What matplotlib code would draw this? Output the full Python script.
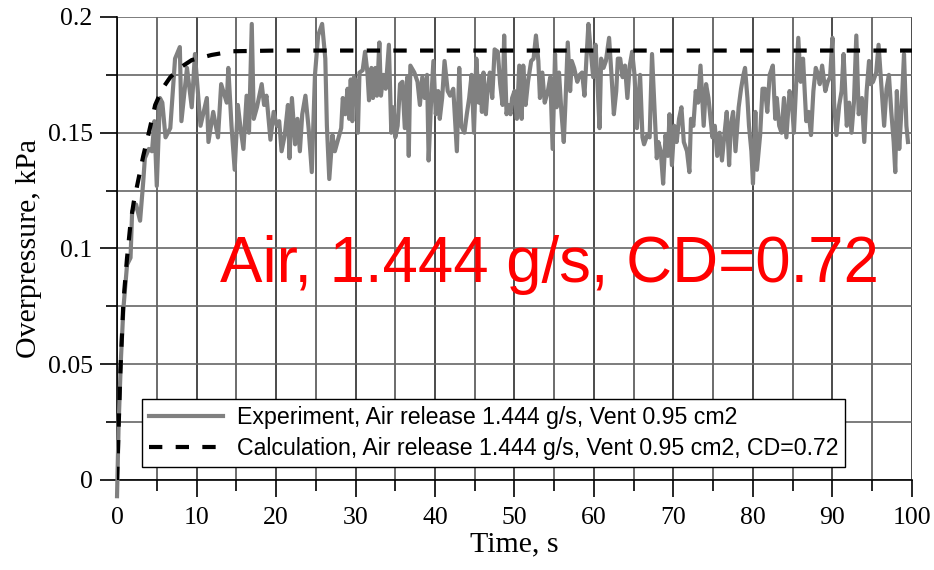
import matplotlib
matplotlib.use("Agg")
import matplotlib.pyplot as plt
from matplotlib.ticker import MultipleLocator, FixedLocator, FixedFormatter

# ---- data ----
# Experiment, in segments of time
t_a = [0, 0.2, 0.5, 0.8, 1.26, 1.7, 1.9, 2.4, 2.9, 3.3,
       3.5, 4.0, 4.4, 4.7, 5.0, 5.4, 5.7, 6.1, 6.7, 7.3,
       7.9, 8.1, 8.8, 9.4, 9.8, 10.5, 11.3, 11.5, 12.1, 12.7,
       13.1]
p_a = [-0.007, 0.024, 0.053, 0.074, 0.093, 0.096, 0.116, 0.119, 0.112, 0.129,
       0.139, 0.143, 0.142, 0.155, 0.127, 0.165, 0.163, 0.148, 0.152, 0.182,
       0.187, 0.155, 0.178, 0.161, 0.184, 0.153, 0.165, 0.146, 0.159, 0.148,
       0.171]
t_b = [13.8, 14.0, 14.4, 14.8, 15.2, 15.5, 15.9, 16.3, 16.6, 16.95,
       17.2, 17.6, 18.2, 18.5, 18.8, 19.3, 19.7, 20.1, 20.4, 20.7,
       21.1, 21.5, 21.7, 22.0, 22.4, 22.7, 23.0, 23.3, 23.7, 24.1,
       24.5, 24.9, 25.3, 25.8, 26.2, 26.4, 26.7, 27.1, 27.4]
p_b = [0.163, 0.178, 0.153, 0.134, 0.162, 0.153, 0.143, 0.166, 0.150, 0.197,
       0.156, 0.161, 0.171, 0.162, 0.166, 0.147, 0.159, 0.153, 0.155, 0.142,
       0.149, 0.162, 0.139, 0.165, 0.145, 0.156, 0.142, 0.158, 0.166, 0.152,
       0.133, 0.175, 0.192, 0.197, 0.182, 0.153, 0.130, 0.149, 0.142]
t_c = [28.2, 28.4, 28.7, 29.0, 29.2, 29.4, 29.6, 29.8, 30.1, 30.3,
       30.5, 30.9, 31.2, 31.5, 31.7, 32.0, 32.2, 32.5, 32.7, 33.0,
       33.2, 33.5, 33.8, 34.2, 34.5, 34.8, 35.0, 35.3, 35.6, 35.9,
       36.2, 36.5, 36.7, 36.9, 37.4, 37.8, 38.1, 38.4, 38.7, 39.0,
       39.2, 39.5, 39.8, 40.1, 40.4, 40.6, 40.9, 41.2, 41.6, 41.9,
       42.3]
p_c = [0.152, 0.165, 0.158, 0.169, 0.156, 0.173, 0.155, 0.174, 0.172, 0.150,
       0.176, 0.177, 0.185, 0.176, 0.164, 0.178, 0.165, 0.178, 0.166, 0.189,
       0.166, 0.175, 0.169, 0.188, 0.150, 0.161, 0.148, 0.153, 0.171, 0.172,
       0.152, 0.174, 0.140, 0.179, 0.176, 0.172, 0.162, 0.174, 0.165, 0.175,
       0.138, 0.163, 0.181, 0.158, 0.168, 0.156, 0.165, 0.181, 0.168, 0.166,
       0.169]
t_d = [42.75, 43.05, 43.3, 43.7, 44.0, 44.3, 44.6, 44.9, 45.2, 45.5,
       45.7, 45.9, 46.1, 46.4, 46.6, 46.9, 47.2, 47.5, 47.9, 48.2,
       48.5, 48.7, 49.0, 49.2, 49.5, 49.7, 50.0, 50.3, 50.6, 50.9,
       51.1, 51.4, 51.7, 52.1, 52.4, 52.7, 53.0, 53.2, 53.5, 53.8,
       54.2, 54.5, 54.8, 55.1, 55.3, 55.6, 55.9, 56.2]
p_d = [0.142, 0.178, 0.153, 0.150, 0.158, 0.165, 0.175, 0.150, 0.182, 0.163,
       0.174, 0.159, 0.176, 0.158, 0.168, 0.176, 0.165, 0.186, 0.185, 0.171,
       0.162, 0.192, 0.158, 0.162, 0.158, 0.165, 0.168, 0.156, 0.179, 0.156,
       0.179, 0.162, 0.172, 0.181, 0.182, 0.192, 0.181, 0.165, 0.176, 0.163,
       0.168, 0.174, 0.143, 0.184, 0.161, 0.176, 0.159, 0.146]
t_e = [56.4, 56.7, 57.0, 57.2, 57.5, 57.9, 58.2, 58.5, 58.8, 59.05,
       59.3, 59.6, 59.9, 60.2, 60.4, 60.7, 60.9, 61.2, 61.5, 61.9,
       62.2, 62.5, 62.8, 63.0, 63.3, 63.6, 63.9, 64.2, 64.5, 64.8,
       65.1, 65.4, 65.8, 66.1, 66.3, 66.7, 67.0, 67.3, 67.6, 67.9,
       68.1, 68.4, 68.7, 69.0, 69.3, 69.5, 69.8, 70.1, 70.4]
p_e = [0.162, 0.189, 0.168, 0.181, 0.178, 0.172, 0.175, 0.176, 0.166, 0.182,
       0.197, 0.185, 0.174, 0.188, 0.174, 0.152, 0.182, 0.178, 0.181, 0.191,
       0.175, 0.158, 0.168, 0.182, 0.182, 0.174, 0.179, 0.165, 0.179, 0.185,
       0.175, 0.152, 0.175, 0.148, 0.145, 0.149, 0.148, 0.184, 0.161, 0.139,
       0.146, 0.142, 0.128, 0.149, 0.140, 0.158, 0.136, 0.153, 0.146]
t_f = [70.7, 71.0, 71.3, 71.7, 72.0, 72.2, 72.5, 72.8, 73.1, 73.4,
       73.8, 74.1, 74.4, 74.7, 74.9, 75.2, 75.5, 75.8, 76.1, 76.4,
       76.7, 77.0, 77.2, 77.5, 77.8, 78.2, 78.5, 78.8, 79.0, 79.3,
       79.5, 79.8, 80.0, 80.3, 80.5, 80.9, 81.2, 81.5, 81.8, 82.1,
       82.5, 82.8, 83.0, 83.3, 83.6, 83.9, 84.2, 84.6]
p_f = [0.156, 0.161, 0.146, 0.142, 0.133, 0.156, 0.153, 0.168, 0.163, 0.179,
       0.153, 0.171, 0.165, 0.155, 0.148, 0.153, 0.140, 0.150, 0.138, 0.149,
       0.159, 0.136, 0.153, 0.159, 0.142, 0.161, 0.169, 0.175, 0.178, 0.165,
       0.153, 0.142, 0.128, 0.159, 0.134, 0.149, 0.169, 0.169, 0.159, 0.175,
       0.179, 0.156, 0.165, 0.153, 0.150, 0.165, 0.148, 0.168]
t_g = [84.9, 85.15, 85.4, 85.7, 86.0, 86.3, 86.7, 87.0, 87.3, 87.6,
       87.9, 88.2, 88.4, 88.7, 89.1, 89.4, 89.7, 90.0, 90.2, 90.5,
       90.85, 91.15, 91.4, 91.8, 92.1, 92.4, 92.7, 93.0, 93.3, 93.7,
       94.0, 94.3, 94.6, 94.8, 95.1, 95.5, 95.8, 96.0, 96.3, 96.5,
       96.8, 97.1, 97.4, 97.7, 97.9, 98.1, 98.4, 98.7, 99.0, 99.3,
       99.5]
p_g = [0.163, 0.150, 0.169, 0.191, 0.172, 0.182, 0.155, 0.159, 0.149, 0.168,
       0.178, 0.175, 0.171, 0.179, 0.168, 0.172, 0.174, 0.191, 0.163, 0.149,
       0.162, 0.168, 0.184, 0.153, 0.163, 0.150, 0.163, 0.192, 0.158, 0.165,
       0.146, 0.168, 0.181, 0.171, 0.172, 0.176, 0.188, 0.178, 0.163, 0.153,
       0.169, 0.175, 0.159, 0.146, 0.133, 0.168, 0.143, 0.161, 0.184, 0.153,
       0.146]

exp_t = t_a + t_b + t_c + t_d + t_e + t_f + t_g
exp_p = p_a + p_b + p_c + p_d + p_e + p_f + p_g

# Calculation
calc_t = [0, 0.4, 0.8, 1.26, 1.7, 2.1, 2.7, 3.3, 4.0, 4.8, 5.7, 6.7, 7.9, 9.4, 11.9, 14.6, 20, 100]
calc_p = [0, 0.045, 0.077, 0.096, 0.111, 0.120, 0.130, 0.140, 0.150, 0.162, 0.169, 0.174, 0.178, 0.1814,
          0.1836, 0.1852, 0.1855, 0.1855]

exp_label = "Experiment, Air release 1.444 g/s, Vent 0.95 cm2"
calc_label = "Calculation, Air release 1.444 g/s, Vent 0.95 cm2, CD=0.72"
annotation = "Air, 1.444 g/s, CD=0.72"
x_major = [0, 10, 20, 30, 40, 50, 60, 70, 80, 90, 100]
y_major = [0, 0.05, 0.1, 0.15, 0.2]
y_major_labels = ["0", "0.05", "0.1", "0.15", "0.2"]

serif = ["Liberation Serif", "DejaVu Serif"]
sans = ["Liberation Sans", "DejaVu Sans"]

fig = plt.figure(figsize=(9.34, 5.70), dpi=100)
ax = fig.add_axes([0.1253, 0.1579, 0.8511, 0.8123])

ax.set_xlim(0, 100)
ax.set_ylim(0, 0.2)

# grid
ax.xaxis.set_major_locator(FixedLocator(x_major))
ax.xaxis.set_minor_locator(MultipleLocator(5))
ax.yaxis.set_major_locator(FixedLocator(y_major))
ax.yaxis.set_major_formatter(FixedFormatter(y_major_labels))
ax.yaxis.set_minor_locator(MultipleLocator(0.025))
ax.grid(which="major", axis="x", color="#1a1a1a", lw=1.1)
ax.grid(which="minor", axis="x", color="#444444", lw=1.1)
ax.grid(which="both", axis="y", color="#666666", lw=1.2)
ax.set_axisbelow(True)

for s in ["top", "right"]:
    ax.spines[s].set_visible(False)
for s in ["left", "bottom"]:
    ax.spines[s].set_color("black")
    ax.spines[s].set_linewidth(1.2)

ax.tick_params(which="both", direction="out", width=1.2, color="black")
ax.tick_params(which="major", length=12.5)
ax.tick_params(which="minor", length=8)
ax.tick_params(axis="x", which="major", labelsize=18.5, pad=7)
ax.tick_params(axis="y", which="major", labelsize=18.5, pad=5)
for lab in ax.get_xticklabels() + ax.get_yticklabels():
    lab.set_family(serif)

ax.plot(exp_t, exp_p, color="#808080", lw=3.0, label=exp_label, clip_on=False, zorder=3)
ax.plot(calc_t, calc_p, color="black", lw=3.0, ls=(0, (3.2, 3.2)), label=calc_label, zorder=4)

ax.set_xlabel("Time, s", family=serif, fontsize=21.5, labelpad=2)
ax.set_ylabel("Overpressure, kPa", family=serif, fontsize=21.5, labelpad=4)

ax.text(13.0, 0.0855, annotation, color="red", family=sans, fontsize=45.8, zorder=5)

leg = ax.legend(loc="lower left", bbox_to_anchor=(0.031, 0.028), prop={"family": sans, "size": 16.7},
                frameon=True, fancybox=False, edgecolor="black", framealpha=1, handlelength=3.2,
                handletextpad=0.6, borderpad=0.3, labelspacing=0.35, borderaxespad=0)
leg.get_frame().set_linewidth(1.0)

fig.savefig("out.png", dpi=100)
